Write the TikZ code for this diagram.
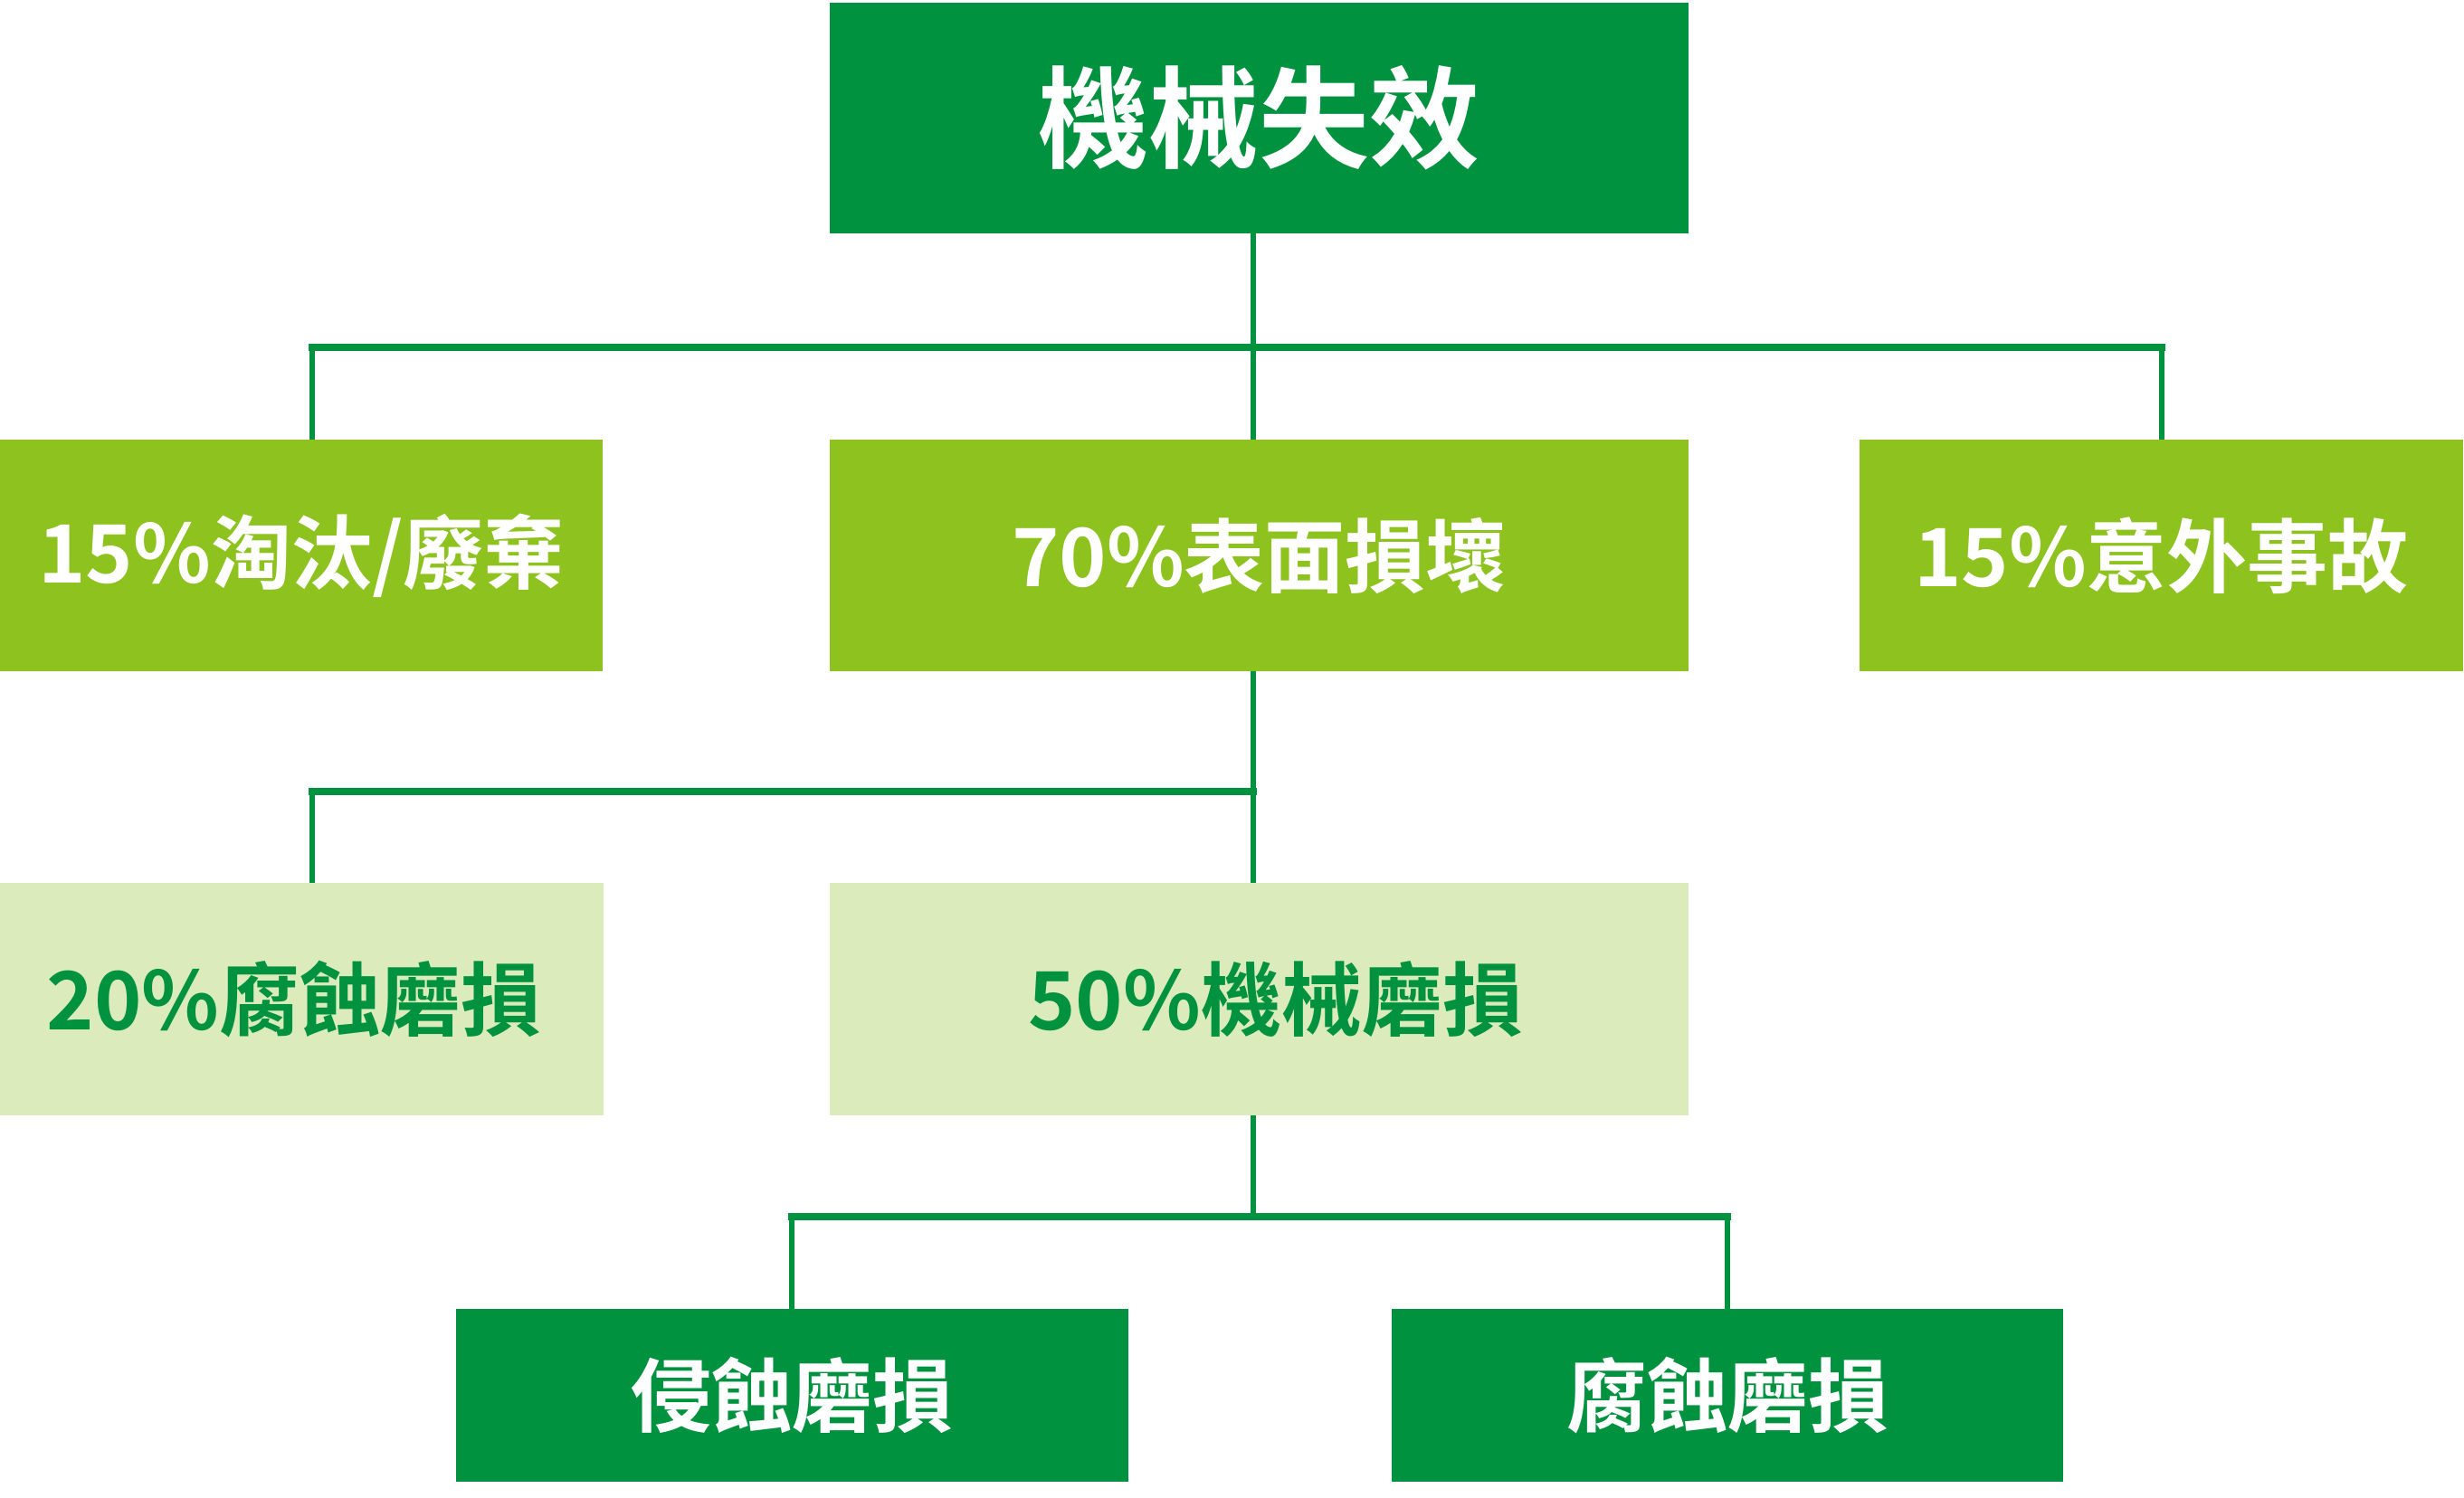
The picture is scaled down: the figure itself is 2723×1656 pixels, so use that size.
\documentclass[tikz,border=0pt]{standalone}
\usepackage{fontspec}
\setmainfont{Noto Sans CJK TC}[BoldFont={Noto Sans CJK TC Bold}]
\definecolor{dkgreen}{RGB}{0,146,63}
\definecolor{lime}{RGB}{141,194,31}
\definecolor{pale}{RGB}{220,235,188}
\begin{document}
\begin{tikzpicture}[x=0.3pt,y=-0.3pt,
  box/.style={rectangle,inner sep=0pt,outer sep=0pt,align=center,font=\bfseries\fontsize{26.7pt}{30pt}\selectfont},
  darkbox/.style={box,fill=dkgreen,text=white},
  limebox/.style={box,fill=lime,text=white},
  palebox/.style={box,fill=pale,text=dkgreen},
  vline/.style={draw=dkgreen,line width=1.9pt},
  hline/.style={draw=dkgreen,line width=2.4pt,line cap=rect}]
\useasboundingbox (0,0) rectangle (2723,1656);
% nodes
\node[darkbox,minimum width=949*0.3pt,minimum height=255*0.3pt,font=\bfseries\fontsize{36.6pt}{40pt}\selectfont] (top) at (1391.5,130.5) {機械失效};
\node[limebox,minimum width=666*0.3pt,minimum height=256*0.3pt] (l2) at (333,614) {15\%淘汰/廢棄};
\node[limebox,minimum width=949*0.3pt,minimum height=256*0.3pt] (m2) at (1391.5,614) {70\%表面損壞};
\node[limebox,minimum width=667*0.3pt,minimum height=256*0.3pt] (r2) at (2388.5,614) {15\%意外事故};
\node[palebox,minimum width=667*0.3pt,minimum height=257*0.3pt] (l3) at (333.5,1104.5) {20\%腐蝕磨損\hspace*{5pt}};
\node[palebox,minimum width=949*0.3pt,minimum height=257*0.3pt] (m3) at (1391.5,1104.5) {\hspace*{11pt}50\%機械磨損};
\node[darkbox,minimum width=743*0.3pt,minimum height=191*0.3pt] (l4) at (875.5,1542.5) {侵蝕磨損};
\node[darkbox,minimum width=742*0.3pt,minimum height=191*0.3pt] (r4) at (1909,1542.5) {腐蝕磨損};
% junction coordinates
\coordinate (j1) at (1385,384);
\coordinate (j1l) at (345,384);
\coordinate (j1r) at (2389,384);
\coordinate (j2) at (1385,875);
\coordinate (j2l) at (345,875);
\coordinate (j3) at (1385,1345);
\coordinate (j3l) at (875,1345);
\coordinate (j3r) at (1909,1345);
% connectors
\path[vline] (top.south -| j1) -- (m2.north -| j1);
\path[hline] (j1l) -- (j1r);
\path[vline] (j1l) -- (l2.north -| j1l);
\path[vline] (j1r) -- (r2.north -| j1r);
\path[vline] (m2.south -| j2) -- (m3.north -| j2);
\path[hline] (j2l) -- (j2);
\path[vline] (j2l) -- (l3.north -| j2l);
\path[vline] (m3.south -| j3) -- (j3);
\path[hline] (j3l) -- (j3r);
\path[vline] (j3l) -- (l4.north -| j3l);
\path[vline] (j3r) -- (r4.north -| j3r);
\end{tikzpicture}
\end{document}
